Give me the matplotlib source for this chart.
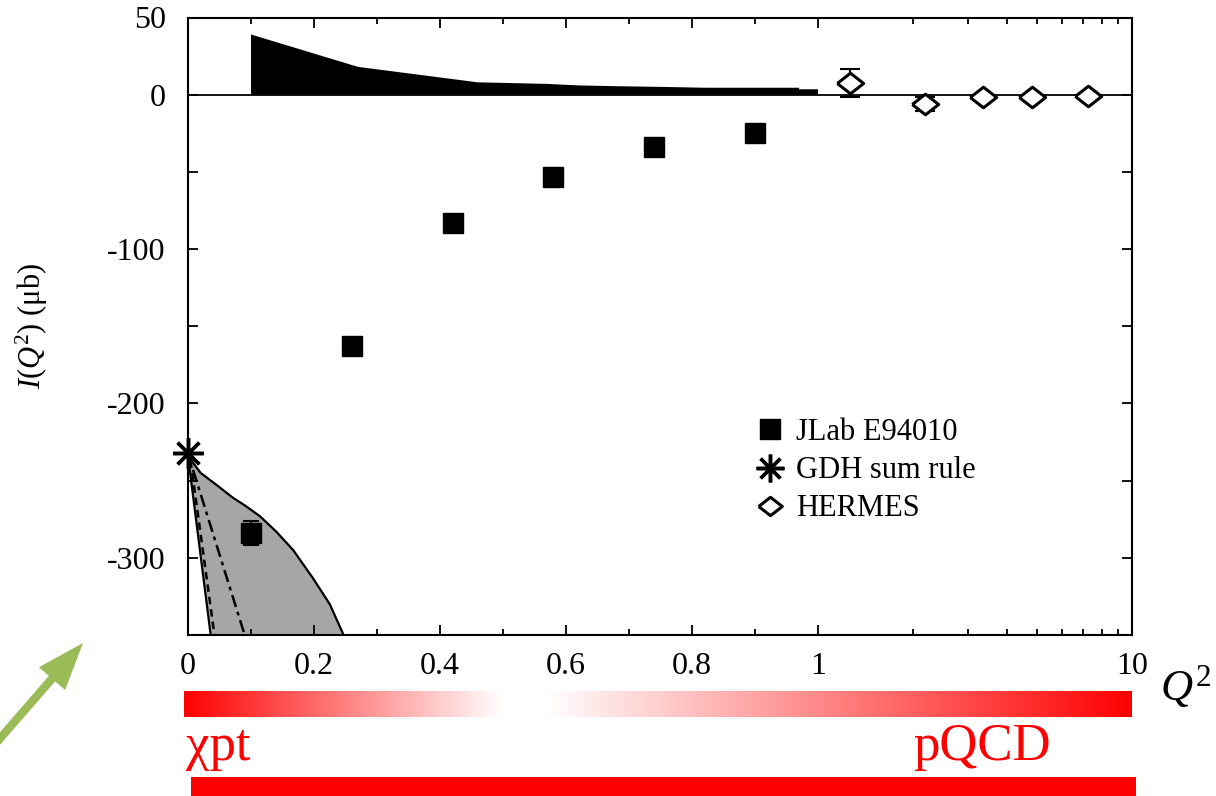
import numpy as np
import matplotlib as mpl
mpl.use('Agg')
import matplotlib.pyplot as plt
from matplotlib.lines import Line2D
from matplotlib.patches import Rectangle, FancyArrowPatch

plt.rcParams['font.family'] = ['Liberation Serif', 'DejaVu Serif']
plt.rcParams['mathtext.fontset'] = 'custom'
plt.rcParams['mathtext.rm'] = 'Liberation Serif'
plt.rcParams['mathtext.it'] = 'Liberation Serif:italic'

# JLab E94010 points
jlab_q2 = [0.10, 0.26, 0.42, 0.58, 0.74, 0.90]
jlab_i = [-284, -163, -83, -53.5, -34, -24.5]
jlab_err = [8, 3, 3, 2, 2, 2]

# HERMES points
hermes_q2 = [1.26, 2.19, 3.35, 4.8, 7.24]
hermes_i = [7.7, -5.8, -1.3, -1.3, -0.6]
hermes_err = [9, 4.5, 1.0, 1.0, 1.0]

# GDH sum rule at Q2 = 0
gdh_q2 = [0]
gdh_i = [-232]

# black band (upper estimate, JLab resonance region contribution)
band_q2 = [0.10, 0.10, 0.27, 0.46, 0.57, 0.62, 0.68, 0.76, 0.82, 0.97, 0.97, 1.0, 1.0]
band_i = [0, 39, 18, 8, 7, 6, 5.5, 5, 4.5, 4.5, 3.5, 3.5, 0]

# chiral PT curves
chpt_upper_q2 = [0.0, 0.02, 0.046, 0.071, 0.09, 0.114, 0.14, 0.167, 0.198, 0.225, 0.247]
chpt_upper_i = [-234, -245, -253, -261, -266, -273, -283, -295, -313, -330, -350]
chpt_lower_q2 = [0.0, 0.036]
chpt_lower_i = [-234, -350]
chpt_dash_q2 = [0.004, 0.042]
chpt_dash_i = [-237, -350]
chpt_dashdot_q2 = [0.008, 0.09]
chpt_dashdot_i = [-243, -350]

xticks = [0, 0.2, 0.4, 0.6, 0.8, 1, 10]
xticklabels = ['0', '0.2', '0.4', '0.6', '0.8', '1', '10']
xminor = [0.1, 0.3, 0.5, 0.7, 0.9, 2, 3, 4, 5, 6, 7, 8, 9]
yticks = [50, 0, -50, -100, -150, -200, -250, -300]
yticklabels = ['50', '0', '', '-100', '', '-200', '', '-300']

K = 314.0 / 630.0  # size of one decade relative to the linear 0..1 part


def fwd(x):
    x = np.asarray(x, dtype=float)
    return np.where(x <= 1, x, 1 + K * np.log10(np.maximum(x, 1)))


def inv(t):
    t = np.asarray(t, dtype=float)
    return np.where(t <= 1, t, 10 ** ((np.maximum(t, 1) - 1) / K))


fig = plt.figure(figsize=(12.16, 7.96), dpi=100)
ax = fig.add_axes([188 / 1216, 1 - 635 / 796, 944 / 1216, 617.5 / 796])
ax.set_xscale('function', functions=(fwd, inv))
ax.set_xlim(0, 10)
ax.set_ylim(-350, 50)

ax.axhline(0, color='black', lw=1.3, zorder=2)
ax.fill(band_q2, band_i, color='black', lw=0, zorder=2)

gx = np.concatenate([chpt_upper_q2, chpt_lower_q2[::-1]])
gy = np.concatenate([chpt_upper_i, chpt_lower_i[::-1]])
ax.fill(gx, gy, color='#a6a6a6', lw=0, zorder=1)
ax.plot(chpt_upper_q2, chpt_upper_i, color='black', lw=1.6, zorder=3)
ax.plot(chpt_lower_q2, chpt_lower_i, color='black', lw=1.6, zorder=3)
ax.plot(chpt_dash_q2, chpt_dash_i, color='black', lw=1.8, ls=(0, (3, 2)), zorder=3)
ax.plot(chpt_dashdot_q2, chpt_dashdot_i, color='black', lw=1.8, ls=(0, (5, 2, 1.5, 2)), zorder=3)

ax.errorbar(jlab_q2, jlab_i, yerr=jlab_err, fmt='s', color='black', ms=15,
            capsize=6, elinewidth=1.5, capthick=1.5, zorder=4)

diamond = [(-1, 0), (0, 0.78), (1, 0), (0, -0.78), (-1, 0)]
ax.errorbar(hermes_q2, hermes_i, yerr=hermes_err, fmt='none', ecolor='black',
            capsize=7, elinewidth=1.5, capthick=1.5, zorder=4)
ax.plot(hermes_q2, hermes_i, ls='none', marker=diamond, ms=19, mfc='white',
        mec='black', mew=2.2, zorder=5)

ax.plot(gdh_q2, gdh_i, ls='none', marker=(8, 2, 0), ms=22, mec='black',
        mew=2.5, clip_on=False, zorder=6)

ax.set_xticks(xticks)
ax.set_xticklabels(xticklabels)
ax.set_xticks(xminor, minor=True)
ax.set_yticks(yticks)
ax.set_yticklabels(yticklabels)
ax.tick_params(which='both', direction='in', top=True, right=True, width=1.3)
ax.tick_params(which='major', length=7)
ax.tick_params(which='minor', length=4)
ax.tick_params(axis='x', which='major', labelsize=23, pad=12)
ax.tick_params(axis='y', which='major', labelsize=23, pad=16)
for s in ax.spines.values():
    s.set_linewidth(1.5)

ax.set_ylabel(r'$I(Q^2)$ (μb)', fontsize=22)
ax.yaxis.set_label_coords(-0.146, 0.5)

handles = [
    Line2D([], [], ls='none', marker='s', ms=15, color='black'),
    Line2D([], [], ls='none', marker=(8, 2, 0), ms=20, mec='black', mew=2.5),
    Line2D([], [], ls='none', marker=diamond, ms=17, mfc='white', mec='black', mew=2.2),
]
labels = ['JLab E94010', 'GDH sum rule', 'HERMES']
ax.legend(handles, labels, loc='center left', bbox_to_anchor=(0.6, 0.266),
          frameon=False, fontsize=22, handlelength=1.0, handletextpad=0.35,
          labelspacing=0.3, borderaxespad=0, borderpad=0)

fig.text(1160 / 1216, 1 - 700 / 796, r'$Q^2$', fontsize=32, ha='left', va='baseline')

# regime bars under the axis
gax = fig.add_axes([184 / 1216, 1 - 717 / 796, 948 / 1216, 26 / 796])
n = 948
p = np.arange(n)
alpha = np.where(p < 320, 1 - p / 320, np.where(p < 359, 0, (p - 359) / (n - 359)))
img = np.zeros((1, n, 4))
img[..., 0] = 1
img[..., 3] = alpha
gax.imshow(img, aspect='auto', interpolation='bilinear')
gax.set_axis_off()

fig.text(186 / 1216, 1 - 760 / 796, 'χpt', color='red', fontsize=38,
         ha='left', va='baseline')
fig.text(913 / 1216, 1 - 760 / 796, 'pQCD', color='red', fontsize=38,
         ha='left', va='baseline')
fig.patches.append(Rectangle((191 / 1216, 0), 945 / 1216, 19 / 796,
                             transform=fig.transFigure, color='red', lw=0))

arrow = FancyArrowPatch((-10 / 1216, 1 - 750 / 796), (83 / 1216, 1 - 643 / 796),
                        transform=fig.transFigure, color='#9bbb59',
                        arrowstyle='simple,head_width=1.25,head_length=1.7,tail_width=0.3',
                        mutation_scale=20, shrinkA=0, shrinkB=0, lw=0)
fig.patches.append(arrow)

fig.savefig('out.png', dpi=100)
